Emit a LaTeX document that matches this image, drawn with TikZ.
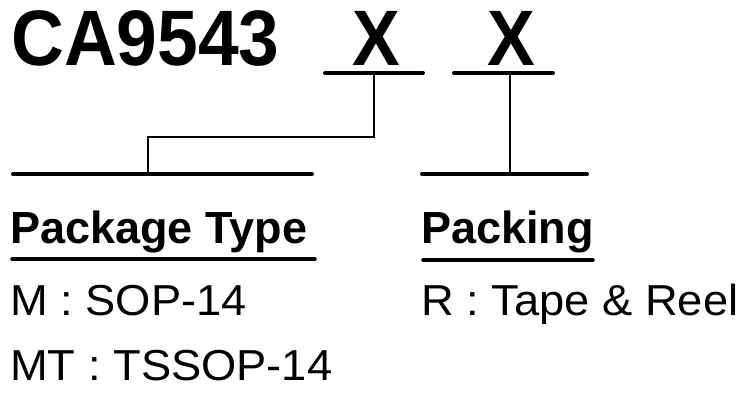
\documentclass[tikz,border=0pt]{standalone}
\usepackage{fontspec}
\setmainfont{Liberation Sans}
\newfontfamily\optfont{Liberation Sans}[FakeStretch=1.045]

\begin{document}
\begin{tikzpicture}[x=0.75pt, y=-0.75pt,
  txt/.style={inner sep=0pt, anchor=base west, font=\optfont\fontsize{32.5}{36}\selectfont},
  head/.style={inner sep=0pt, anchor=base west, font=\bfseries\fontsize{33.75}{38}\selectfont},
  big/.style={inner sep=0pt, font=\bfseries\fontsize{59}{64}\selectfont},
  bar/.style={line width=3pt, line cap=round},
  wire/.style={line width=2.2pt}]
\useasboundingbox (0,0) rectangle (748,393);
% part number
\node[big, anchor=base west] (part) at (11,65) {\scalebox{0.93}[1]{CA9543}};
\node[big, anchor=base] (codeM) at (376,65) {\scalebox{0.91}[1]{X}};
\node[big, anchor=base] (codeP) at (511.5,65) {\scalebox{0.91}[1]{X}};
% bars under the code letters
\coordinate (barMl) at (325,73); \coordinate (barMr) at (423,73);
\coordinate (barPl) at (454,73); \coordinate (barPr) at (553,73);
\draw[bar] (barMl) -- (barMr);
\draw[bar] (barPl) -- (barPr);
% lines over the headings
\coordinate (lineMl) at (13,174); \coordinate (lineMr) at (312,174);
\coordinate (linePl) at (422,174); \coordinate (linePr) at (587,174);
\draw[bar] (lineMl) -- (lineMr);
\draw[bar] (linePl) -- (linePr);
% connectors
\coordinate (barM) at (374,73); \coordinate (lineM) at (148,174);
\coordinate (knee) at (148,137);
\coordinate (barP) at (510,73); \coordinate (lineP) at (510,174);
\draw[wire] (barM) |- (knee) -- (lineM);
\draw[wire] (barP) -- (lineP);
% headings
\node[head] (pkg) at (10,243) {Package Type};
\node[head] (pack) at (421,243) {Packing};
\draw[bar, line width=2.6pt] (12,259) -- (315,259);
\draw[bar, line width=2.6pt] (423,260) -- (593,260);
% options
\node[txt] (optM) at (10,315) {M : SOP-14};
\node[txt] (optMT) at (10,380) {MT : TSSOP-14};
\node[txt] (optR) at (421,315) {R : Tape \& Reel};
\end{tikzpicture}
\end{document}
